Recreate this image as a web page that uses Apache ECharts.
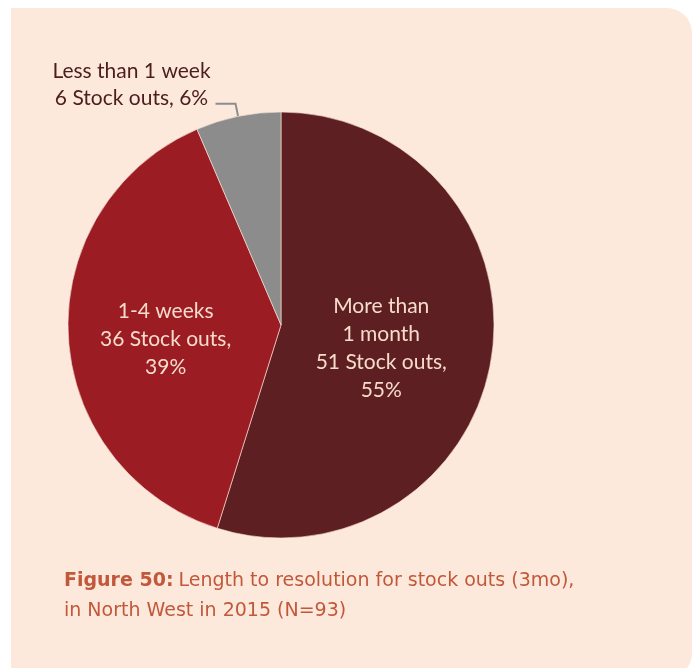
<!DOCTYPE html>
<html>
<head>
<meta charset="utf-8">
<script src="https://cdn.jsdelivr.net/npm/echarts@6/dist/echarts.min.js"></script>
<style>
  html, body { margin: 0; padding: 0; background: #fff; }
  #chart { width: 700px; height: 668px; }
</style>
</head>
<body>
<div id="chart"></div>
<script>
const categories = ['More than\n1 month', '1-4 weeks', 'Less than 1 week']
const stockOuts = [51, 36, 6]
const sliceColors = ['#5e1f22', '#9b1c23', '#8c8c8c']

const chart = echarts.init(document.getElementById('chart'))

const pieData = categories.map((name, i) => ({
  name: name,
  value: stockOuts[i],
  itemStyle: { color: sliceColors[i] },
}))
pieData[0].label = { offset: [-8, 7] }
pieData[1].label = { offset: [-6, 9] }
// the small slice gets an outside label with a leader line
pieData[2].label = {
  position: 'outside',
  color: '#4b1d1f',
  padding: [0, 0, 38, 0],
  formatter: p => '{a|' + p.name + '}\n{a|' + p.value + ' Stock outs, ' + p.percent + '%}',
  rich: { a: { width: 158, align: 'center', fontSize: 21, lineHeight: 27, fontFamily: 'Lato', color: '#4b1d1f' } },
}
pieData[2].labelLine = { show: true, length: 13, length2: 20, lineStyle: { color: '#8c8c8c', width: 2 } }

chart.setOption({
  backgroundColor: 'transparent',
  animation: false,
  title: {
    left: 64,
    top: 566,
    padding: 0,
    text: '{b|Figure 50:} {n|Length to resolution for stock outs (3mo),}\n{n|in North West in 2015 (N=93)}',
    textStyle: {
      rich: {
        b: { fontFamily: 'DejaVu Sans', fontSize: 19, fontWeight: 'bold', color: '#c2583a', lineHeight: 30 },
        n: { fontFamily: 'DejaVu Sans', fontSize: 19, fontWeight: 'normal', color: '#c2583a', lineHeight: 30 },
      },
    },
  },
  graphic: [
    {
      type: 'rect',
      z: -10,
      shape: { x: 11, y: 8, width: 681, height: 670, r: [0, 25, 25, 0] },
      style: { fill: '#fde9dc' },
    },
  ],
  series: [
    {
      type: 'pie',
      center: [281, 325],
      radius: 213,
      startAngle: 90,
      clockwise: true,
      percentPrecision: 0,
      data: pieData,
      itemStyle: { borderColor: '#fde9dc', borderWidth: 0.6 },
      label: {
        position: 'inside',
        color: '#f6dccb',
        fontFamily: 'Lato',
        fontSize: 21,
        lineHeight: 28,
        formatter: p => p.name + '\n' + p.value + ' Stock outs,\n' + p.percent + '%',
      },
      labelLine: { show: false },
      emphasis: { disabled: true },
    },
  ],
})
</script>
</body>
</html>
